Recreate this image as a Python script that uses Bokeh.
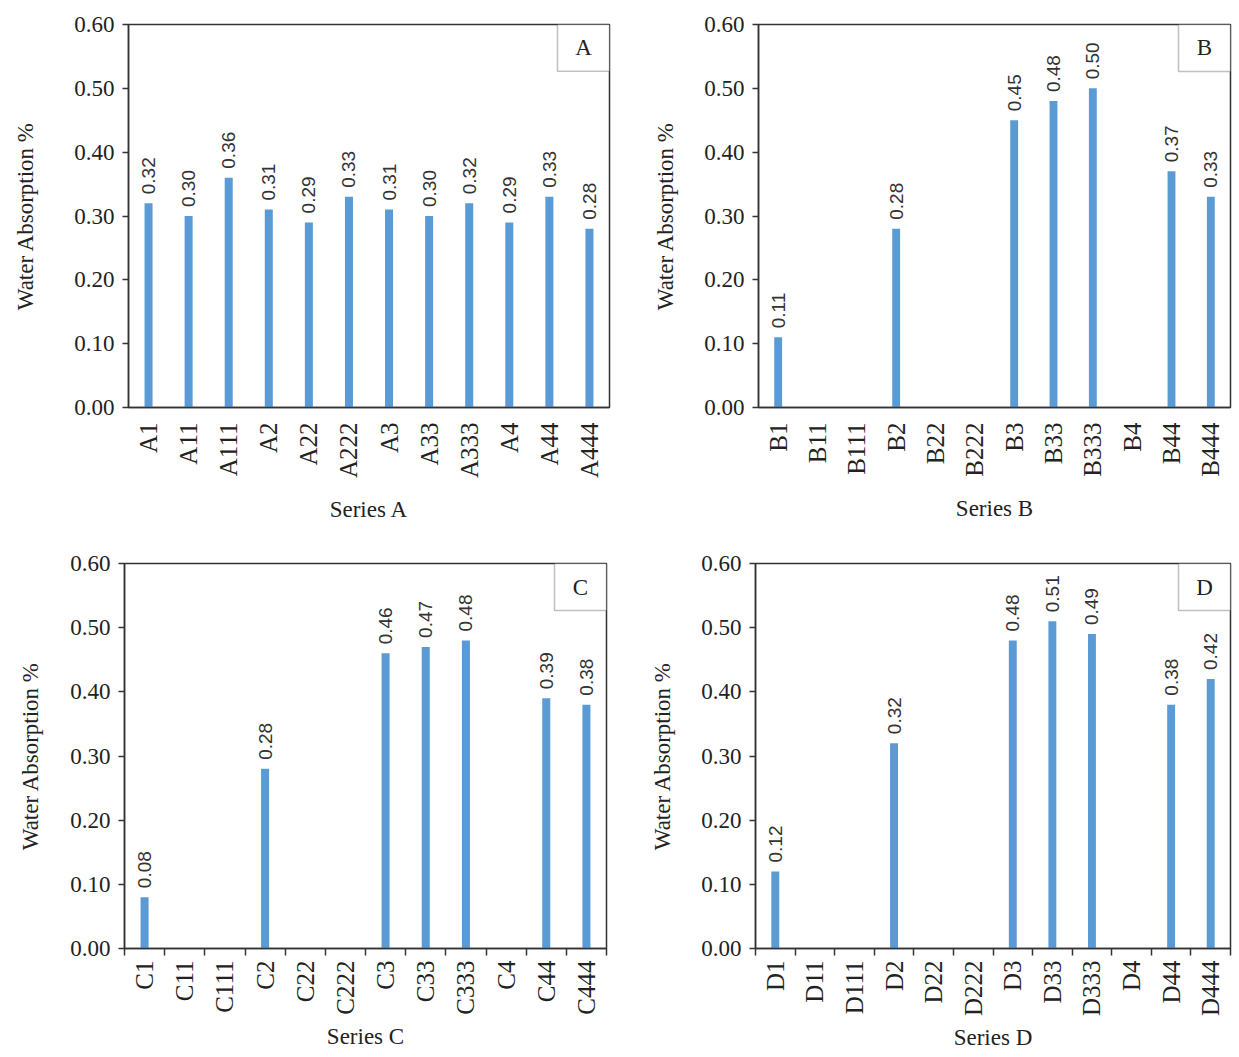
from math import pi
from bokeh.plotting import figure
from bokeh.models import (Range1d, FixedTicker, LinearAxis, BoxAnnotation, Label,
                          PrintfTickFormatter)
from bokeh.layouts import column, row
from bokeh.core.properties import value
from bokeh.embed import file_html
from bokeh.resources import INLINE

# ---------------- data ----------------
cats_a = ["A1", "A11", "A111", "A2", "A22", "A222", "A3", "A33", "A333", "A4", "A44", "A444"]
vals_a = [0.32, 0.30, 0.36, 0.31, 0.29, 0.33, 0.31, 0.30, 0.32, 0.29, 0.33, 0.28]

cats_b = ["B1", "B11", "B111", "B2", "B22", "B222", "B3", "B33", "B333", "B4", "B44", "B444"]
vals_b = [0.11, None, None, 0.28, None, None, 0.45, 0.48, 0.50, None, 0.37, 0.33]

cats_c = ["C1", "C11", "C111", "C2", "C22", "C222", "C3", "C33", "C333", "C4", "C44", "C444"]
vals_c = [0.08, None, None, 0.28, None, None, 0.46, 0.47, 0.48, None, 0.39, 0.38]

cats_d = ["D1", "D11", "D111", "D2", "D22", "D222", "D3", "D33", "D333", "D4", "D44", "D444"]
vals_d = [0.12, None, None, 0.32, None, None, 0.48, 0.51, 0.49, None, 0.38, 0.42]

y_ticks = [0.0, 0.1, 0.2, 0.3, 0.4, 0.5, 0.6]
y_title = "Water Absorption %"

SERIF = "Liberation Serif"
BAR = "#5B9BD5"
AX = "#333333"
TXT = "#222222"


def panel(cats, vals, letter, xlabel, width, height, bl, br, bt, bb,
          boundary_ticks, ylab_standoff, xlab_standoff, xtick_standoff):
    n = len(cats)
    p = figure(width=width, height=height,
               x_range=Range1d(-0.5, n - 0.5), y_range=Range1d(0, 0.6),
               x_axis_type=None, y_axis_type=None,
               output_backend="svg", toolbar_location=None,
               min_border_left=bl, min_border_right=br,
               min_border_top=bt, min_border_bottom=bb)
    p.outline_line_color = AX
    p.outline_line_width = 1.5
    p.background_fill_color = "white"

    yax = LinearAxis(ticker=FixedTicker(ticks=y_ticks),
                     formatter=PrintfTickFormatter(format="%.2f"),
                     axis_label=y_title)
    yax.axis_line_color = AX
    yax.axis_line_width = 1.5
    yax.major_tick_line_color = AX
    yax.major_tick_line_width = 1.5
    yax.major_tick_out = 6
    yax.major_tick_in = 0
    yax.minor_tick_line_color = None
    yax.major_label_standoff = 8
    yax.major_label_text_font = SERIF
    yax.major_label_text_font_size = "23px"
    yax.major_label_text_color = TXT
    yax.axis_label_text_font = SERIF
    yax.axis_label_text_font_size = "23px"
    yax.axis_label_text_font_style = "normal"
    yax.axis_label_text_color = TXT
    yax.axis_label_standoff = ylab_standoff
    p.add_layout(yax, "left")

    idx = list(range(n))
    minor = [i - 0.5 for i in range(n + 1)] if boundary_ticks else []
    xax = LinearAxis(ticker=FixedTicker(ticks=idx, minor_ticks=minor),
                     major_label_overrides={i: c for i, c in zip(idx, cats)},
                     axis_label=xlabel)
    xax.major_label_orientation = pi / 2
    xax.axis_line_color = AX
    xax.axis_line_width = 1.5
    xax.major_tick_line_color = None
    if boundary_ticks:
        xax.minor_tick_line_color = AX
        xax.minor_tick_line_width = 1.5
        xax.minor_tick_out = 7
        xax.minor_tick_in = 0
    else:
        xax.minor_tick_line_color = None
    xax.major_label_standoff = xtick_standoff
    xax.major_label_text_font = SERIF
    xax.major_label_text_font_size = "25px"
    xax.major_label_text_color = TXT
    xax.axis_label_text_font = SERIF
    xax.axis_label_text_font_size = "23px"
    xax.axis_label_text_font_style = "normal"
    xax.axis_label_text_color = TXT
    xax.axis_label_standoff = xlab_standoff
    p.add_layout(xax, "below")

    xs = [i for i, v in zip(idx, vals) if v is not None]
    tops = [v for v in vals if v is not None]
    p.vbar(x=xs, top=tops, width=0.2, fill_color=BAR, line_color=None)
    p.text(x=xs, y=tops, text=[f"{v:.2f}" for v in tops], angle=pi / 2,
           text_align="left", text_baseline="middle", y_offset=-9,
           text_font=value("Liberation Sans"), text_font_size="19px",
           text_color="#333333")

    box_w = 52.0 / (width - bl - br) * n
    box_h = 47.0 / (height - bt - bb) * 0.6
    p.add_layout(BoxAnnotation(left=n - 0.5 - box_w, right=n - 0.5,
                               bottom=0.6 - box_h, top=0.6,
                               fill_color="white", fill_alpha=1.0,
                               line_color=AX, line_width=1.5))
    p.add_layout(Label(x=n - 0.5 - box_w / 2, y=0.6 - box_h / 2, text=letter,
                       text_align="center", text_baseline="middle",
                       text_font=SERIF, text_font_size="23px",
                       text_color=TXT))
    return p


pA = panel(cats_a, vals_a, "A", "Series A", 630, 549, 128, 21, 22, 142, False, 33, 16, 9)
pB = panel(cats_b, vals_b, "B", "Series B", 605, 549, 128, 5, 24, 141, False, 23, 16, 9)
pC = panel(cats_c, vals_c, "C", "Series C", 630, 507, 124, 24, 14, 108, True, 24, 6, 5)
pD = panel(cats_d, vals_d, "D", "Series D", 605, 507, 125, 5, 14, 108, True, 23, 6, 5)

layout = column(row(pA, pB), row(pC, pD))
open("out.html", "w").write(file_html(layout, INLINE))
